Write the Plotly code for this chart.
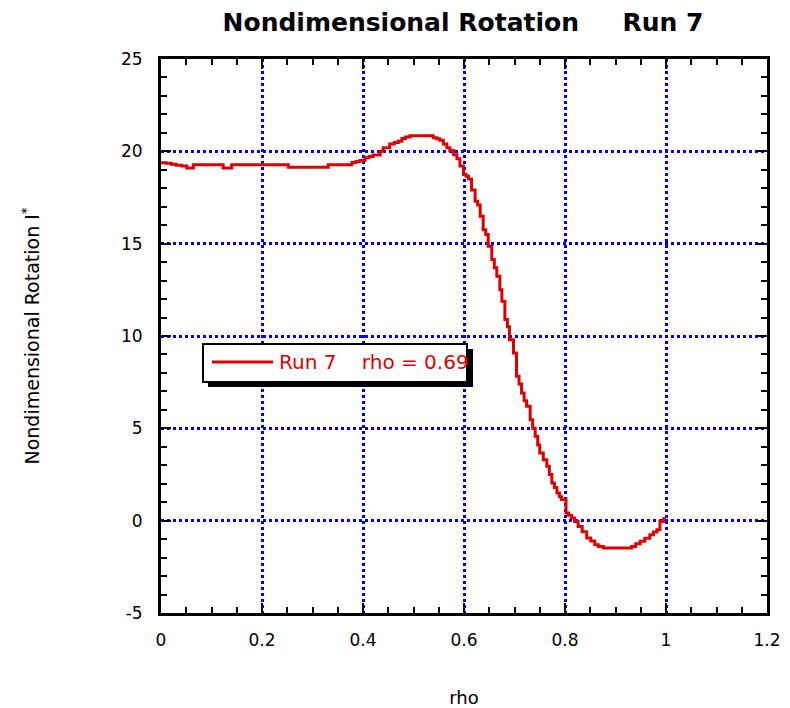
import plotly.graph_objects as go

# Nondimensional rotation profile, Run 7
rho = [0.000, 0.010, 0.020, 0.030, 0.041, 0.051, 0.064, 0.123, 0.140, 0.252,
       0.331, 0.378, 0.386, 0.394, 0.404, 0.412, 0.420, 0.434, 0.440, 0.453,
       0.462, 0.470, 0.477, 0.484, 0.493, 0.539, 0.546, 0.552, 0.559, 0.566,
       0.572, 0.579, 0.586, 0.592, 0.599, 0.604, 0.609, 0.615, 0.622, 0.627,
       0.632, 0.638, 0.643, 0.648, 0.655, 0.660, 0.665, 0.671, 0.675, 0.681,
       0.686, 0.690, 0.698, 0.704, 0.709, 0.714, 0.719, 0.724, 0.731, 0.736,
       0.741, 0.746, 0.750, 0.757, 0.764, 0.769, 0.774, 0.779, 0.784, 0.789,
       0.793, 0.802, 0.807, 0.813, 0.819, 0.826, 0.834, 0.843, 0.851, 0.859,
       0.866, 0.876, 0.932, 0.940, 0.949, 0.958, 0.968, 0.975, 0.982, 0.988,
       0.995, 1.000]
rotation = [19.38, 19.35, 19.30, 19.25, 19.20, 19.10, 19.27, 19.10, 19.27, 19.14,
            19.27, 19.40, 19.45, 19.50, 19.65, 19.72, 19.80, 20.00, 20.20, 20.40,
            20.48, 20.55, 20.70, 20.78, 20.84, 20.73, 20.68, 20.60, 20.40, 20.20,
            20.05, 19.82, 19.60, 19.20, 18.75, 18.65, 18.50, 17.90, 17.30, 17.10,
            16.48, 15.76, 15.50, 14.86, 14.14, 13.70, 13.23, 12.51, 11.88, 10.90,
            10.50, 9.80, 9.08, 7.82, 7.40, 6.92, 6.50, 6.19, 5.47, 5.00,
            4.57, 4.10, 3.67, 3.30, 2.94, 2.50, 2.04, 1.80, 1.50, 1.30,
            1.14, 0.42, 0.30, 0.15, -0.05, -0.31, -0.60, -0.94, -1.10, -1.30,
            -1.40, -1.48, -1.40, -1.25, -1.12, -0.95, -0.76, -0.62, -0.49, -0.04,
            0.10, 0.10]

x_ticks = [0, 0.2, 0.4, 0.6, 0.8, 1.0, 1.2]
x_tick_text = ["0", "0.2", "0.4", "0.6", "0.8", "1", "1.2"]
y_ticks = [-5, 0, 5, 10, 15, 20, 25]
y_tick_text = ["-5", "0", "5", "10", "15", "20", "25"]

series_label = "Run 7\u00a0\u00a0\u00a0\u00a0rho = 0.69"

FONT = "DejaVu Sans"
RED = "#dd0000"
GRID = "#0000ee"

fig = go.Figure()
fig.add_trace(go.Scatter(
    x=rho, y=rotation, mode="lines", line_shape="hv",
    line=dict(color=RED, width=3), showlegend=False,
))

W, H = 790, 708
L, R, T, B = 161, 23, 59, 95
pw, ph = W - L - R, H - T - B


def px(xp):
    return (xp - L) / pw


def py(yp):
    return (H - B - yp) / ph


axis_common = dict(
    showline=True, linecolor="black", linewidth=3, mirror="ticks",
    ticks="inside", ticklen=10, tickwidth=2, tickcolor="black",
    showgrid=True, gridcolor=GRID, gridwidth=3, griddash="3px,3px",
    zeroline=False, tickfont=dict(family=FONT, size=17, color="black"),
)

fig.update_xaxes(
    range=[0, 1.2], tickvals=x_ticks, ticktext=x_tick_text,
    minor=dict(dtick=0.05, ticks="inside", ticklen=6, tickwidth=2,
               tickcolor="black", showgrid=False),
    title=dict(text="rho", font=dict(family=FONT, size=18, color="black"),
               standoff=42),
    ticklabelstandoff=10,
    **axis_common,
)
fig.update_yaxes(
    range=[-5, 25], tickvals=y_ticks, ticktext=y_tick_text,
    minor=dict(dtick=1, ticks="inside", ticklen=6, tickwidth=2,
               tickcolor="black", showgrid=False),
    title=dict(text="Nondimensional Rotation I<sup>*</sup>",
               font=dict(family=FONT, size=19, color="black"), standoff=77),
    ticklabelstandoff=12,
    **axis_common,
)

# Boxed series key with a drop shadow
shapes = [
    dict(type="rect", xref="paper", yref="paper",
         x0=px(208), x1=px(473), y0=py(387), y1=py(349),
         fillcolor="black", line=dict(width=0)),
    dict(type="rect", xref="paper", yref="paper",
         x0=px(203), x1=px(467), y0=py(382), y1=py(344),
         fillcolor="white", line=dict(color="black", width=2)),
    dict(type="line", xref="paper", yref="paper",
         x0=px(212), x1=px(273), y0=py(362), y1=py(362),
         line=dict(color=RED, width=3)),
]
fig.update_layout(shapes=shapes)
fig.add_annotation(
    xref="paper", yref="paper", x=px(277), y=py(362),
    xanchor="left", yanchor="middle", showarrow=False,
    text=series_label, font=dict(family=FONT, size=20, color=RED),
)

fig.update_layout(
    width=W, height=H,
    margin=dict(l=L, r=R, t=T, b=B, autoexpand=False),
    paper_bgcolor="white", plot_bgcolor="white",
    title=dict(
        text="<b>Nondimensional Rotation\u00a0\u00a0\u00a0\u00a0\u00a0Run 7</b>",
        font=dict(family=FONT, size=25, color="black"),
        x=463 / W, xanchor="center", y=1 - 22 / H, yanchor="middle",
        xref="container", yref="container",
    ),
    font=dict(family=FONT),
)

fig.write_html("out.html")
